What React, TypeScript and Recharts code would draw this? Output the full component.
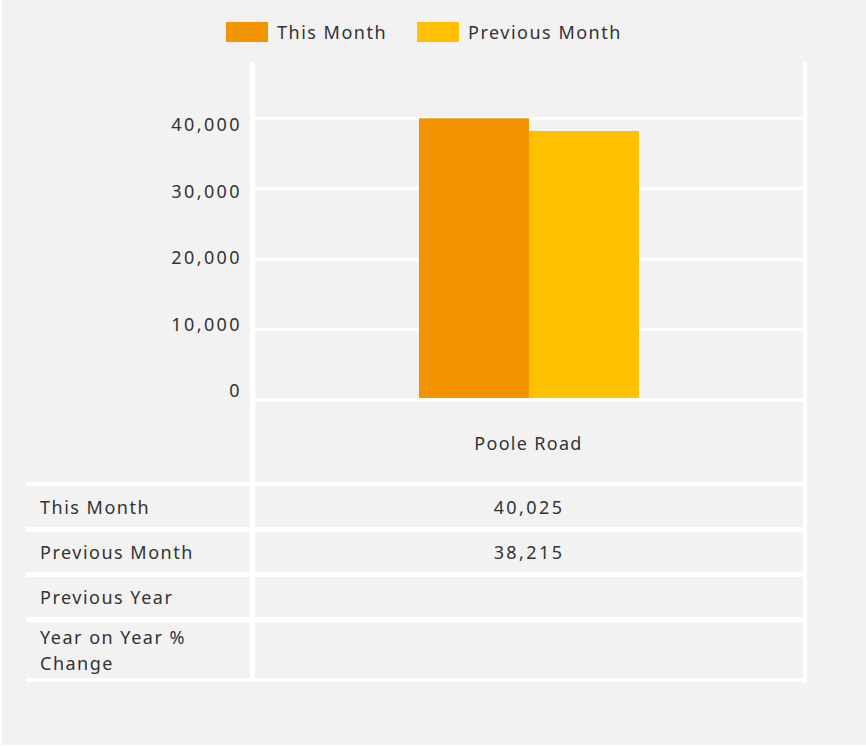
import React from "react";
import { BarChart, Bar, XAxis, YAxis, CartesianGrid } from "recharts";

const categories = ["Poole Road"];
const thisMonth = [40025];
const previousMonth = [38215];
const previousYear: (number | null)[] = [null];
const yoyChange: (number | null)[] = [null];
const yTicks = [0, 10000, 20000, 30000, 40000];
const seriesNames = ["This Month", "Previous Month"];

const ORANGE = "#f29400";
const YELLOW = "#ffc000";
const seriesColors = [ORANGE, YELLOW];
const BG = "#f2f2f2";
const FONT = "'Noto Sans', sans-serif";
const TEXT = "#333333";

const data = categories.map((name, i) => ({
  name,
  thisMonth: thisMonth[i],
  previousMonth: previousMonth[i],
}));

const fmt = (v: number | null) => (v == null ? "" : v.toLocaleString("en-GB"));

const tableRows = [
  { label: "This Month", values: thisMonth.map(fmt) },
  { label: "Previous Month", values: previousMonth.map(fmt) },
  { label: "Previous Year", values: previousYear.map(fmt) },
  { label: "Year on Year % Change", values: yoyChange.map(fmt) },
];
const rowTops = [486, 532, 577, 622];
const rowHeights = [41, 40, 40, 56];

function YTick({ x, y, payload, index }: any) {
  // labels in the original sit on a slightly tighter rhythm than the gridlines
  const shift = -10 + 4 * index;
  return (
    <text
      x={x - 4}
      y={y + shift}
      textAnchor="end"
      dominantBaseline="central"
      fontSize={18}
      fontFamily={FONT}
      fill={TEXT}
      letterSpacing={2.4}
    >
      {payload.value.toLocaleString("en-GB")}
    </text>
  );
}

export default function App() {
  const white = "#ffffff";
  return (
    <div style={{ position: "absolute", left: 0, top: 0, width: 866, height: 747, background: white }}>
      <div style={{ position: "absolute", left: 2, top: 0, width: 864, height: 745, background: BG }} />
      {/* legend */}
      <div style={{ position: "absolute", left: 226, top: 22, display: "flex", fontFamily: FONT }}>
        {seriesNames.map((n, i) => (
          <div key={n} style={{ display: "flex", alignItems: "center", marginRight: 30 }}>
            <span style={{ display: "inline-block", width: 42, height: 20, background: seriesColors[i], marginRight: 9 }} />
            <span style={{ fontSize: 18, color: TEXT, letterSpacing: 1.5, lineHeight: "20px" }}>{n}</span>
          </div>
        ))}
      </div>
      <div style={{ position: "absolute", left: 0, top: 0 }}>
        <BarChart
          width={866}
          height={482}
          data={data}
          margin={{ top: 62, right: 63, left: 0, bottom: 0 }}
          barGap={0}
          barCategoryGap={0}
        >
          <CartesianGrid vertical={false} horizontalValues={yTicks} stroke={white} strokeWidth={3} />
          <XAxis
            dataKey="name"
            height={82}
            axisLine={{ stroke: white, strokeWidth: 4 }}
            tickLine={false}
            tick={{ fontSize: 18, fill: TEXT, fontFamily: FONT, dy: 29, letterSpacing: 1.3 }}
          />
          <YAxis
            width={254}
            domain={[0, 48000]}
            allowDataOverflow
            ticks={yTicks}
            axisLine={false}
            tickLine={false}
            tick={<YTick />}
          />
          <Bar dataKey="thisMonth" name={seriesNames[0]} fill={ORANGE} barSize={110} isAnimationActive={false} />
          <Bar dataKey="previousMonth" name={seriesNames[1]} fill={YELLOW} barSize={110} isAnimationActive={false} />
        </BarChart>
      </div>
      {/* vertical lines of the plot/table frame */}
      <div style={{ position: "absolute", left: 250, top: 62, width: 5, height: 620, background: white }} />
      <div style={{ position: "absolute", left: 803, top: 62, width: 4, height: 621, background: white }} />
      {/* table */}
      <div style={{ position: "absolute", left: 26, top: 482, width: 781, height: 200, background: white }} />
      {tableRows.map((row, r) => (
        <React.Fragment key={row.label}>
          <div
            style={{
              position: "absolute",
              left: 26,
              top: rowTops[r],
              width: 224,
              height: rowHeights[r],
              background: BG,
              display: "flex",
              alignItems: "center",
              paddingLeft: 14,
              boxSizing: "border-box",
              fontFamily: FONT,
              fontSize: 18,
              letterSpacing: 1.5,
              lineHeight: "26px",
              color: TEXT,
            }}
          >
            <span style={{ width: 175 }}>{row.label}</span>
          </div>
          <div
            style={{
              position: "absolute",
              left: 255,
              top: rowTops[r],
              width: 548,
              height: rowHeights[r],
              background: BG,
              display: "flex",
              alignItems: "center",
              justifyContent: "center",
              fontFamily: FONT,
              fontSize: 18,
              letterSpacing: 2.4,
              color: TEXT,
            }}
          >
            {row.values[0]}
          </div>
        </React.Fragment>
      ))}
    </div>
  );
}
